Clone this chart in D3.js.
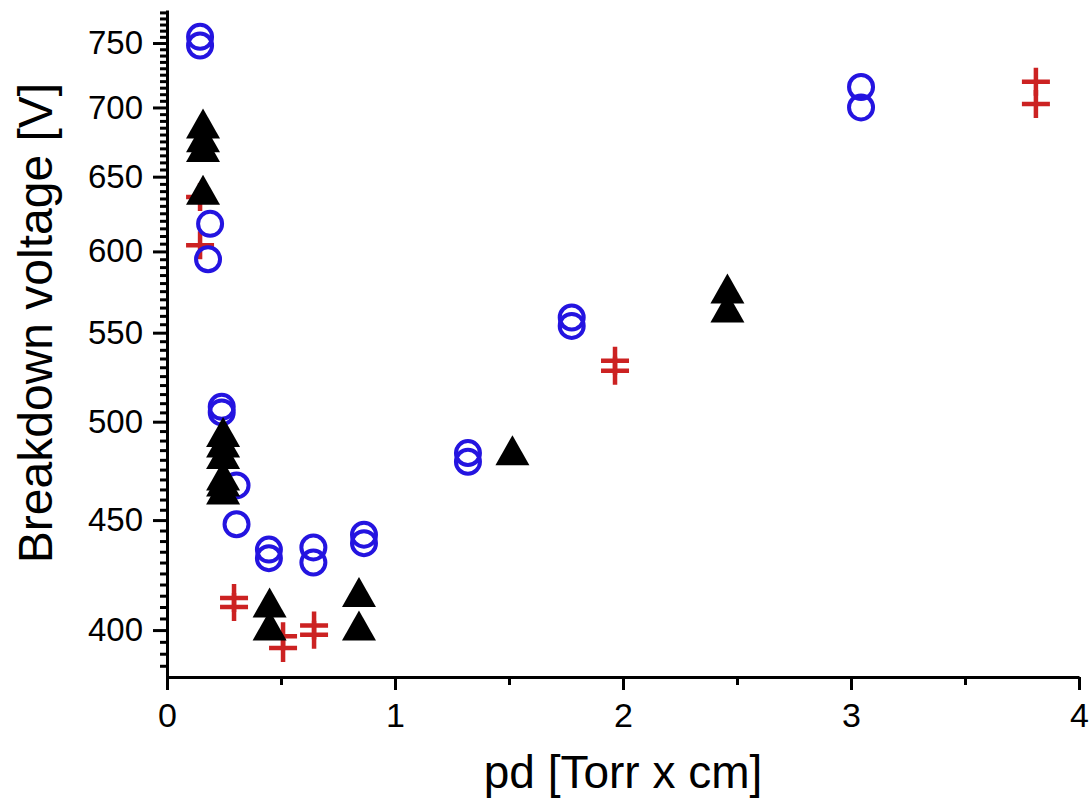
<!DOCTYPE html>
<html>
<head>
<meta charset="utf-8">
<script src="https://cdn.jsdelivr.net/npm/d3@7"></script>
<style>
  body { margin: 0; background: #fff; }
  text { font-family: "Liberation Sans", Arial, sans-serif; }
</style>
</head>
<body>
<div id="chart"></div>
<script>
// values
const circleX = [0.145, 0.145, 0.189, 0.18, 0.24, 0.24, 0.305, 0.305, 0.447, 0.447,
  0.642, 0.642, 0.864, 0.864, 1.32, 1.32, 1.775, 1.775, 3.044, 3.044];
const circleY = [755, 748, 618, 595, 508, 505, 467, 448, 436, 432,
  437, 430, 443, 439, 483.5, 479, 559, 554, 715.5, 700];

const triX = [0.158, 0.158, 0.158, 0.158, 0.246, 0.246, 0.246, 0.246, 0.246, 0.246,
  0.45, 0.45, 0.842, 0.842, 1.515, 2.458, 2.458];
const triY = [688, 678, 671, 641, 494.5, 489, 483, 472, 469, 465,
  412, 402, 416.6, 402, 485, 576.6, 565];

const crossX = [0.145, 0.145, 0.294, 0.294, 0.509, 0.509, 0.645, 0.645, 1.965, 1.965, 3.811, 3.811];
const crossY = [636, 604, 414, 410, 397.4, 392.4, 402, 398, 533.7, 528, 719.6, 702.6];

const xTicks = [0, 1, 2, 3, 4];
const xMinor = [0.5, 1.5, 2.5, 3.5];
const yTicks = [400, 450, 500, 550, 600, 650, 700, 750];
const yMinor = d3.range(385, 780, 5).filter(v => v % 50 !== 0);

const W = 1089, H = 800;
const margin = {top: 10, right: 10, bottom: 123, left: 167},
    width = W - margin.left - margin.right,
    height = H - margin.top - margin.bottom;

const svg = d3.select("#chart")
  .append("svg")
    .attr("width", W)
    .attr("height", H)
  .append("g")
    .attr("transform", `translate(${margin.left},${margin.top})`);

const x = d3.scaleLinear().domain([0, 4]).range([0, 912]);
const y = d3.scaleLog().domain([380.4, 777]).range([height, 0]);

// minor ticks first
svg.append("g")
  .attr("class", "minor")
  .call(d3.axisLeft(y).tickValues(yMinor).tickSize(7).tickFormat(""));
svg.append("g")
  .attr("class", "minor")
  .attr("transform", `translate(0,${height})`)
  .call(d3.axisBottom(x).tickValues(xMinor).tickSize(8).tickFormat(""));

// main axes
const yAxis = svg.append("g")
  .call(d3.axisLeft(y).tickValues(yTicks).tickSize(14).tickSizeOuter(0).tickPadding(10).tickFormat(d3.format("d")));
yAxis.selectAll("text").style("font-size", "33px").attr("fill", "#000");

const xAxis = svg.append("g")
  .attr("transform", `translate(0,${height})`)
  .call(d3.axisBottom(x).tickValues(xTicks).tickSize(13).tickSizeOuter(0).tickPadding(13).tickFormat(d3.format("d")));
xAxis.selectAll("text").style("font-size", "34px").attr("fill", "#000");

svg.selectAll(".domain, .tick line")
  .attr("stroke", "#000")
  .attr("stroke-width", 3);
svg.selectAll(".minor .domain").remove();

// axis titles
svg.append("text")
  .attr("text-anchor", "middle")
  .attr("x", 456)
  .attr("y", height + 111)
  .style("font-size", "46px")
  .text("pd [Torr x cm]");

svg.append("text")
  .attr("text-anchor", "middle")
  .attr("transform", `translate(${52 - margin.left},${323 - margin.top}) rotate(-90)`)
  .style("font-size", "48px")
  .text("Breakdown voltage [V]");

// red crosses
const crosses = crossX.map((v, i) => ({x: v, y: crossY[i]}));
svg.append("g").selectAll("path")
  .data(crosses)
  .enter()
  .append("path")
    .attr("transform", d => `translate(${x(d.x)},${y(d.y)})`)
    .attr("d", "M-14,0H14M0,-14V14")
    .attr("stroke", "#cc2222")
    .attr("stroke-width", 4.5)
    .attr("fill", "none");

// blue open circles
const circles = circleX.map((v, i) => ({x: v, y: circleY[i]}));
svg.append("g").selectAll("circle")
  .data(circles)
  .enter()
  .append("circle")
    .attr("cx", d => x(d.x))
    .attr("cy", d => y(d.y))
    .attr("r", 12)
    .attr("fill", "none")
    .attr("stroke", "#2414e0")
    .attr("stroke-width", 4);

// black filled triangles
const tris = triX.map((v, i) => ({x: v, y: triY[i]}));
svg.append("g").selectAll("path")
  .data(tris)
  .enter()
  .append("path")
    .attr("transform", d => `translate(${x(d.x)},${y(d.y)})`)
    .attr("d", "M0,-15L17,15H-17Z")
    .attr("fill", "#000");
</script>
</body>
</html>
